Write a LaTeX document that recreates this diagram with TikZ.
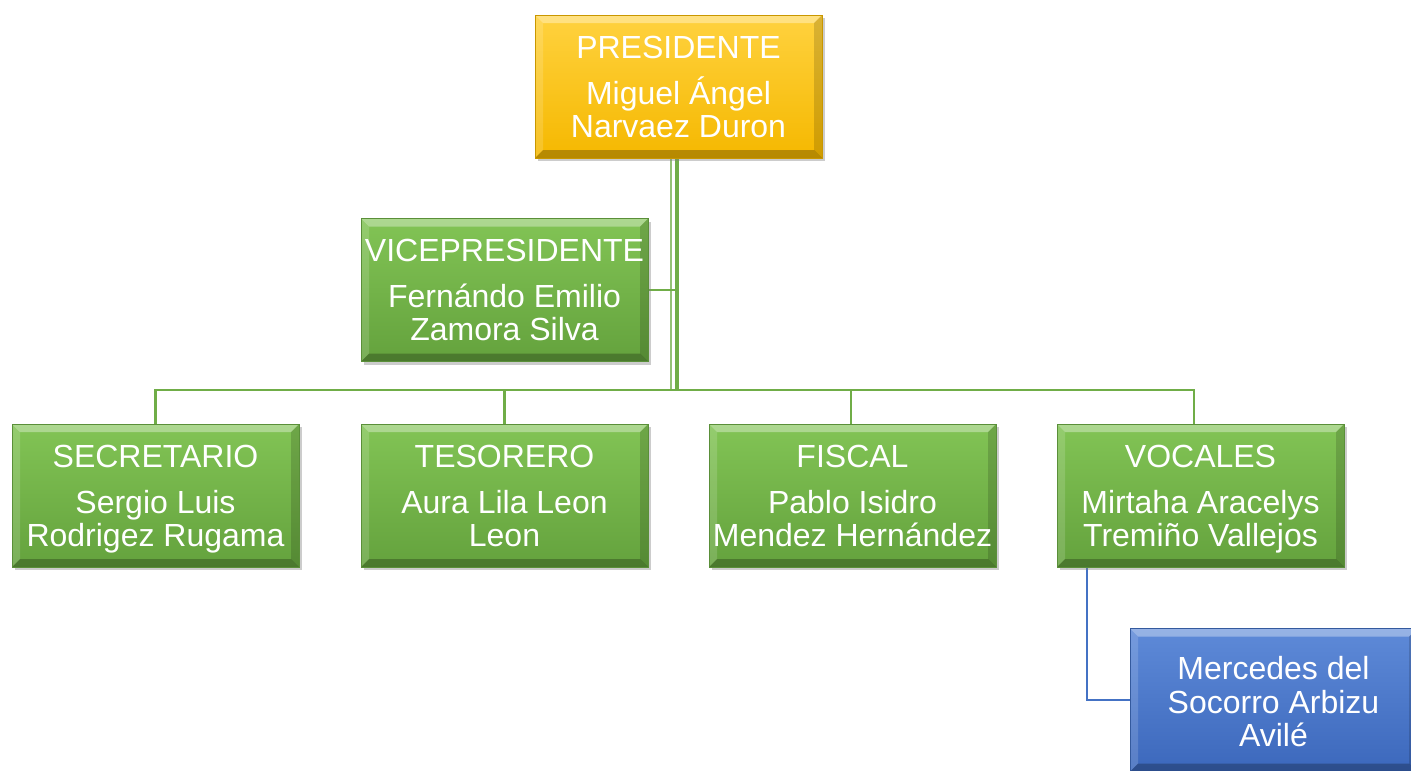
\documentclass[tikz,border=0pt]{standalone}
\usepackage{fontspec}
\setmainfont{Liberation Sans}
\usetikzlibrary{shadows,calc}
\pgfdeclarelayer{bglow}
\pgfdeclarelayer{conns}
\pgfsetlayers{bglow,conns,main}
\definecolor{grnT}{HTML}{82C455}
\definecolor{grnB}{HTML}{64A23D}
\definecolor{grnL}{HTML}{70AD47}
\definecolor{grnD}{HTML}{5A8F39}
\definecolor{ylwT}{HTML}{FFD23F}
\definecolor{ylwB}{HTML}{F5B800}
\definecolor{ylwD}{HTML}{C99700}
\definecolor{bluT}{HTML}{5E8AD8}
\definecolor{bluB}{HTML}{3C68BC}
\definecolor{bluL}{HTML}{4472C4}
\definecolor{bluD}{HTML}{345A9E}
\newcommand\boxbevel{%
  \fill[white,opacity=0.35] (path picture bounding box.north west) -- (path picture bounding box.north east)
    -- ([shift={(-6pt,-6pt)}]path picture bounding box.north east) -- ([shift={(6pt,-6pt)}]path picture bounding box.north west) -- cycle;
  \fill[white,opacity=0.15] (path picture bounding box.north west) -- ([shift={(6pt,-6pt)}]path picture bounding box.north west)
    -- ([shift={(6pt,6pt)}]path picture bounding box.south west) -- (path picture bounding box.south west) -- cycle;
  \fill[black,opacity=0.15] (path picture bounding box.north east) -- ([shift={(-6pt,-6pt)}]path picture bounding box.north east)
    -- ([shift={(-6pt,6pt)}]path picture bounding box.south east) -- (path picture bounding box.south east) -- cycle;
  \fill[black,opacity=0.25] (path picture bounding box.south west) -- ([shift={(6pt,6pt)}]path picture bounding box.south west)
    -- ([shift={(-6pt,6pt)}]path picture bounding box.south east) -- (path picture bounding box.south east) -- cycle;
}
\newcommand\botstrut{\rule[-7pt]{0pt}{7pt}}
\newcommand\card[3]{\rule{0pt}{23.9pt}#1\\[9.5pt]#2\\#3\botstrut}
\newcommand\plaincard[3]{\rule{0pt}{26.9pt}#1\\#2\\#3\botstrut}
\newcommand\nolineskip{\setlength{\lineskiplimit}{-100pt}}
\tikzset{
  box/.style={minimum width=215.25pt, minimum height=107.25pt, inner sep=0pt, align=center,
    text=white, font=\fontsize{24}{25}\selectfont, line width=0.6pt,
    execute at begin node=\nolineskip,
    drop shadow={shadow xshift=2pt, shadow yshift=-2.5pt, opacity=0.4},
    path picture={\boxbevel}},
  greenbox/.style={box, top color=grnT, bottom color=grnB, draw=grnD},
  yellowbox/.style={box, top color=ylwT, bottom color=ylwB, draw=ylwD},
  bluebox/.style={box, top color=bluT, bottom color=bluB, draw=bluD},
  conn/.style={draw=grnL, line width=1.6pt},
  mainconn/.style={draw=grnL, line width=2.6pt},
  thinconn/.style={draw=grnL!75, line width=1.3pt},
  bconn/.style={draw=bluL, line width=1.6pt},
}
\begin{document}
\begin{tikzpicture}[x=0.75pt, y=-0.75pt]
  \useasboundingbox (0,0) rectangle (1411,771);
  \clip (0,0) rectangle (1411,771);
  \begin{pgfonlayer}{bglow}
    \fill[white] (0,0) rectangle (1411,771);
  \end{pgfonlayer}
  \coordinate (busY) at (0,390);
  \node[yellowbox] (pres) at (678.5,86.5) {\card{PRESIDENTE}{Miguel Ángel}{Narvaez Duron}};
  \node[greenbox] (vp) at (504.5,290) {\card{VICEPRESIDENTE}{Fernándo Emilio}{Zamora Silva}};
  \node[greenbox] (sec) at (155.5,495.5) {\card{SECRETARIO}{Sergio Luis}{Rodrigez Rugama}};
  \node[greenbox] (tes) at (504.5,495.5) {\card{TESORERO}{Aura Lila Leon}{Leon}};
  \node[greenbox] (fis) at (852.5,495.5) {\card{FISCAL}{Pablo Isidro}{Mendez Hernández}};
  \node[greenbox] (voc) at (1200.5,495.5) {\card{VOCALES}{Mirtaha Aracelys}{Tremiño Vallejos}};
  \node[bluebox] (mer) at (1273.5,700) {\plaincard{Mercedes del}{Socorro Arbizu}{Avilé}};
  \begin{pgfonlayer}{conns}
    \draw[thinconn] ([xshift=-5.6pt]pres.south) -- ([xshift=-5.6pt]pres.south |- busY);
    \draw[mainconn] ([xshift=-1pt]pres.south) -- ([xshift=-1pt]pres.south |- busY);
    \draw[conn] (vp.east) -- ([xshift=-1pt]pres.south |- vp.east);
    \draw[conn] (sec.north) -- (sec.north |- busY) -- ([xshift=-5pt]voc.north |- busY) -- ([xshift=-5pt]voc.north);
    \draw[conn] (tes.north) -- (tes.north |- busY);
    \draw[conn] ([xshift=-1pt]fis.north) -- ([xshift=-1pt]fis.north |- busY);
    \draw[bconn] ([xshift=22.5pt]voc.south west) |- (mer.west);
  \end{pgfonlayer}
\end{tikzpicture}
\end{document}
